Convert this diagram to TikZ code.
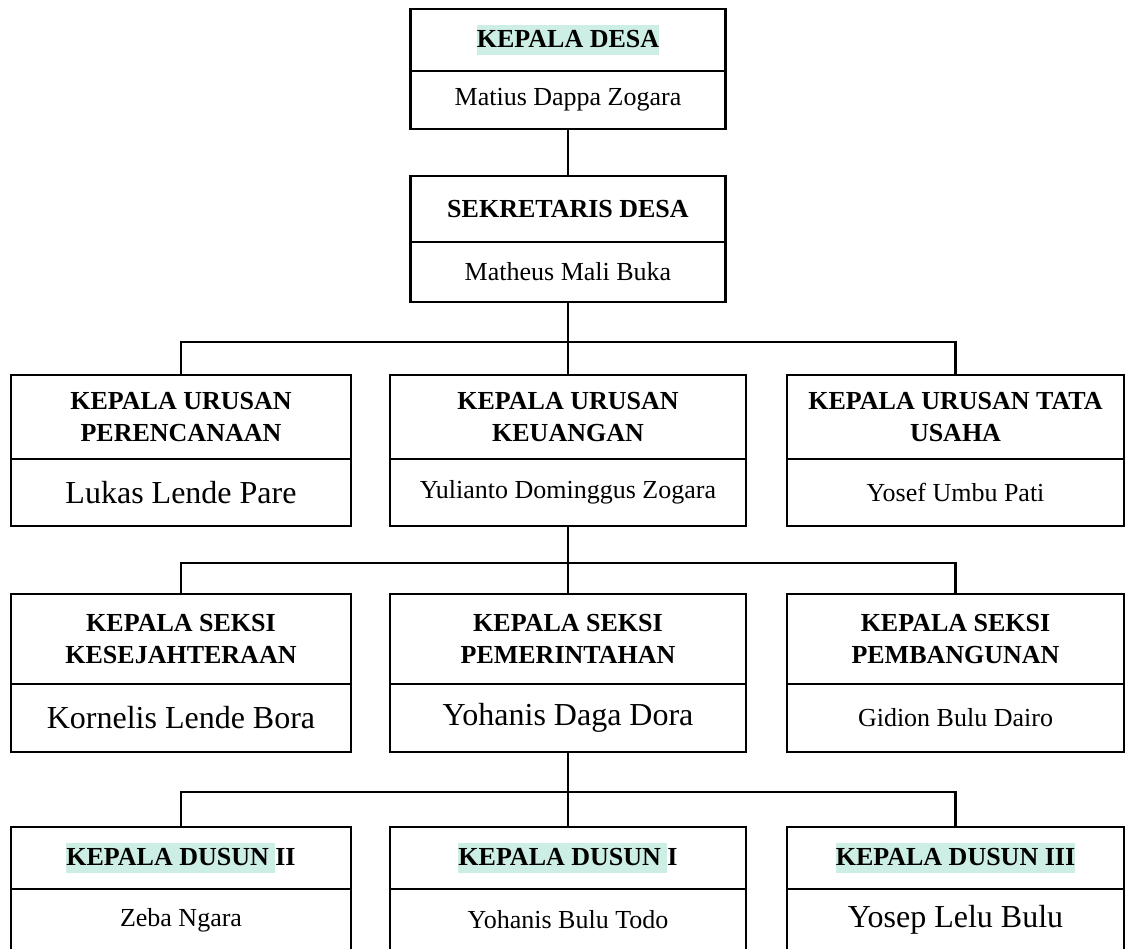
\documentclass[tikz,border=0pt]{standalone}
\usepackage{fontspec}
\setmainfont{Liberation Serif}

\definecolor{sorot}{RGB}{205,238,228}
\newcommand{\tandai}[1]{{\setlength{\fboxsep}{0pt}\colorbox{sorot}{\vrule height 22pt depth 8pt width 0pt #1}}}

\begin{document}
\begin{tikzpicture}[x=1pt, y=-1pt,
    jabatan/.style={draw, line width=2.5pt, inner sep=0pt, align=center, font=\fontsize{26}{32}\selectfont\bfseries},
    nama/.style={draw, line width=2.5pt, inner sep=0pt, align=center, font=\fontsize{26}{32}\selectfont},
    namabesar/.style={nama, font=\fontsize{32}{38}\selectfont},
    garis/.style={line width=2.5pt}]
    \useasboundingbox (0,0) rectangle (1127,948);
    \clip (0,0) rectangle (1127,948);

    \node[jabatan, minimum width=315, minimum height=62] (kadesJ) at (568,40) {\tandai{KEPALA DESA}};
    \node[nama, minimum width=315, minimum height=58] (kadesN) at (568,100) {Matius Dappa Zogara};
    \node[jabatan, minimum width=315, minimum height=66] (sekdesJ) at (568,209) {SEKRETARIS DESA};
    \node[nama, minimum width=315, minimum height=60] (sekdesN) at (568,272) {Matheus Mali Buka};

    \node[jabatan, minimum width=340, minimum height=84] (kaurPJ) at (181,417) {KEPALA URUSAN\\PERENCANAAN};
    \node[namabesar, minimum width=340, minimum height=67] (kaurPN) at (181,492.5) {Lukas Lende Pare};
    \node[jabatan, minimum width=356, minimum height=84] (kaurKJ) at (568,417) {KEPALA URUSAN\\KEUANGAN};
    \node[nama, minimum width=356, minimum height=67] (kaurKN) at (568,492.5) {Yulianto Dominggus Zogara};
    \node[jabatan, minimum width=337, minimum height=84] (kaurTJ) at (955.5,417) {KEPALA URUSAN TATA\\USAHA};
    \node[nama, minimum width=337, minimum height=67] (kaurTN) at (955.5,492.5) {Yosef Umbu Pati};

    \node[jabatan, minimum width=340, minimum height=90] (kasiKJ) at (181,639) {KEPALA SEKSI\\KESEJAHTERAAN};
    \node[namabesar, minimum width=340, minimum height=68] (kasiKN) at (181,718) {Kornelis Lende Bora};
    \node[jabatan, minimum width=356, minimum height=90] (kasiPJ) at (568,639) {KEPALA SEKSI\\PEMERINTAHAN};
    \node[namabesar, minimum width=356, minimum height=68] (kasiPN) at (568,718) {Yohanis Daga Dora};
    \node[jabatan, minimum width=337, minimum height=90] (kasiBJ) at (955.5,639) {KEPALA SEKSI\\PEMBANGUNAN};
    \node[nama, minimum width=337, minimum height=68] (kasiBN) at (955.5,718) {Gidion Bulu Dairo};

    \node[jabatan, minimum width=340, minimum height=62] (kadus2J) at (181,858) {\tandai{KEPALA DUSUN\ }II};
    \node[nama, minimum width=340, minimum height=62] (kadus2N) at (181,920) {Zeba Ngara};
    \node[jabatan, minimum width=356, minimum height=62] (kadus1J) at (568,858) {\tandai{KEPALA DUSUN\ }I};
    \node[nama, minimum width=356, minimum height=62] (kadus1N) at (568,920) {Yohanis Bulu Todo};
    \node[jabatan, minimum width=337, minimum height=62] (kadus3J) at (955.5,858) {\tandai{KEPALA DUSUN III}};
    \node[namabesar, minimum width=337, minimum height=62] (kadus3N) at (955.5,920) {Yosep Lelu Bulu};

    \coordinate (bus1) at (568,342);
    \coordinate (bus2) at (568,563);
    \coordinate (bus3) at (568,792);

    \draw[garis] (kadesN) to (sekdesJ);
    \draw[garis] (sekdesN) to (kaurKJ);
    \draw[garis] (kaurPJ.north) |- (bus1) -| (kaurTJ.north);
    \draw[garis] (kaurKN) to (kasiPJ);
    \draw[garis] (kasiKJ.north) |- (bus2) -| (kasiBJ.north);
    \draw[garis] (kasiPN) to (kadus1J);
    \draw[garis] (kadus2J.north) |- (bus3) -| (kadus3J.north);
\end{tikzpicture}
\end{document}
